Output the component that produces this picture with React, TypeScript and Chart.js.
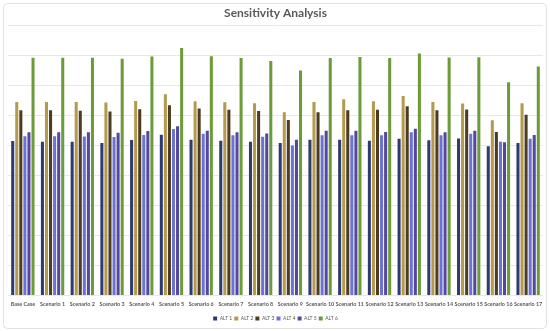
import React, { useEffect, useRef } from "react";
import { Chart, registerables } from "chart.js";

Chart.register(...registerables);

const categories = [
  "Base Case", "Scenario 1", "Scenario 2", "Scenario 3", "Scenario 4", "Scenario 5",
  "Scenario 6", "Scenario 7", "Scenario 8", "Scenario 9", "Scenario 10", "Scenario 11",
  "Scenario 12", "Scenario 13", "Scenario 14", "Scenario 15", "Scenario 16", "Scenario 17",
];

const alt1 = [51.5, 51.2, 51.2, 50.8, 51.8, 53.6, 51.9, 51.6, 51.2, 50.8, 51.9, 51.9, 51.6, 52.2, 51.7, 52.3, 49.7, 50.8];
const alt2 = [64.5, 64.5, 64.5, 64.3, 64.8, 67.1, 64.7, 64.4, 64.1, 61.1, 64.5, 65.4, 64.7, 66.5, 64.5, 64.0, 58.4, 64.1];
const alt3 = [61.7, 61.7, 61.6, 61.3, 62.1, 63.4, 62.3, 61.9, 61.5, 58.5, 61.1, 61.7, 61.9, 63.1, 61.7, 62.0, 54.5, 60.2];
const alt4 = [53.1, 53.1, 53.0, 52.8, 53.5, 55.5, 53.9, 53.4, 52.9, 50.0, 53.4, 53.4, 53.4, 54.4, 53.4, 53.9, 51.2, 52.2];
const alt5 = [54.4, 54.4, 54.4, 54.2, 54.8, 56.4, 54.9, 54.4, 54.0, 51.9, 54.9, 54.9, 54.5, 55.6, 54.4, 54.9, 51.1, 53.5];
const alt6 = [79.2, 79.2, 79.2, 78.9, 79.6, 82.5, 79.7, 79.1, 78.1, 75.0, 79.1, 79.5, 79.1, 80.6, 79.3, 79.4, 71.1, 76.3];

const seriesNames = ["ALT 1", "ALT 2", "ALT 3", "ALT 4", "ALT 5", "ALT 6"];
const seriesColors = ["#2F3B70", "#B39A4E", "#4E3C20", "#6C72D2", "#54489E", "#6E9B3A"];

const yMax = 90;
const yStep = 10;

const borderPlugin = {
  id: "outerBorder",
  beforeDraw(chart: any) {
    const ctx = chart.ctx;
    ctx.save();
    ctx.fillStyle = "#FFFFFF";
    ctx.fillRect(0, 0, chart.width, chart.height);
    ctx.strokeStyle = "#E2E2E2";
    ctx.lineWidth = 1;
    const x = 3.5, y = 3.5, w = chart.width - 7, h = chart.height - 6;
    const r = 4;
    ctx.beginPath();
    ctx.moveTo(x + r, y);
    ctx.lineTo(x + w - r, y);
    ctx.quadraticCurveTo(x + w, y, x + w, y + r);
    ctx.lineTo(x + w, y + h - r);
    ctx.quadraticCurveTo(x + w, y + h, x + w - r, y + h);
    ctx.lineTo(x + r, y + h);
    ctx.quadraticCurveTo(x, y + h, x, y + h - r);
    ctx.lineTo(x, y + r);
    ctx.quadraticCurveTo(x, y, x + r, y);
    ctx.stroke();
    ctx.restore();
  },
};

export default function App() {
  const ref = useRef<HTMLCanvasElement | null>(null);

  useEffect(() => {
    document.body.style.margin = "0";
    if (!ref.current) return;
    const values = [alt1, alt2, alt3, alt4, alt5, alt6];
    const chart = new Chart(ref.current, {
      type: "bar",
      data: {
        labels: categories,
        datasets: values.map((d, i) => ({
          label: seriesNames[i],
          data: d,
          backgroundColor: seriesColors[i],
          borderWidth: 0,
          categoryPercentage: 0.82,
          barPercentage: 0.75,
        })),
      },
      options: {
        animation: false,
        responsive: false,
        maintainAspectRatio: false,
        layout: { padding: { left: 8, right: 7, top: 0, bottom: 0 } },
        plugins: {
          title: {
            display: true,
            text: "Sensitivity Analysis",
            color: "#595959",
            font: { family: "Lato", size: 12, weight: "bold" },
            padding: { top: 6, bottom: 5 },
          },
          legend: {
            position: "bottom",
            labels: {
              boxWidth: 4,
              boxHeight: 4,
              padding: 2,
              color: "#595959",
              font: { family: "Lato", size: 5 },
            },
          },
          tooltip: { enabled: false },
        },
        scales: {
          x: {
            grid: { display: false, drawTicks: false },
            border: { display: false },
            ticks: {
              color: "#595959",
              font: { family: "Lato", size: 5.4, weight: "bold" },
              maxRotation: 0,
              autoSkip: false,
              padding: 6,
            },
          },
          y: {
            min: 0,
            max: yMax,
            ticks: { display: false, stepSize: yStep },
            grid: { color: "#E8E8E8", drawTicks: false },
            border: { display: false },
          },
        },
      },
      plugins: [borderPlugin],
    });
    return () => chart.destroy();
  }, []);

  return <canvas ref={ref} width={550} height={331} style={{ display: "block" }} />;
}
